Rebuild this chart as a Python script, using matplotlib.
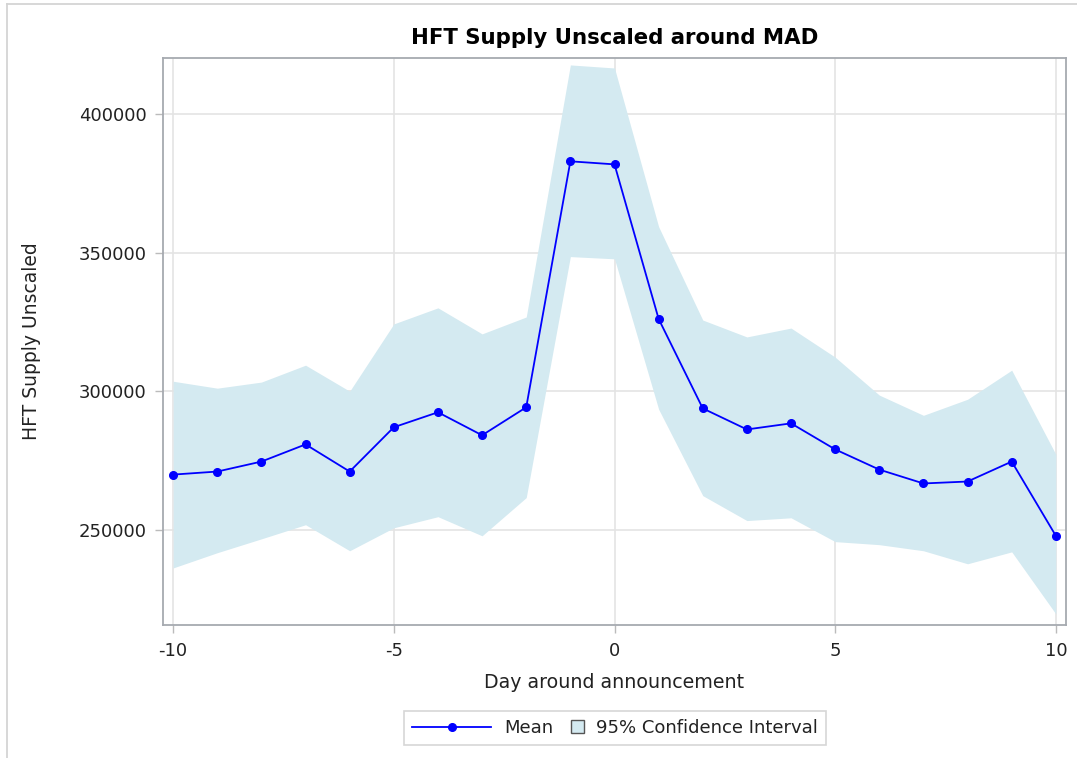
import matplotlib
matplotlib.use("Agg")
import matplotlib.pyplot as plt
from matplotlib.lines import Line2D
from matplotlib.patches import Patch
from matplotlib.legend_handler import HandlerPatch

# values
days = [-10, -9, -8, -7, -6, -5, -4, -3, -2, -1, 0, 1, 2, 3, 4, 5, 6, 7, 8, 9, 10]
mean_vals = [269900, 271000, 274600, 280800, 271000, 287000, 292400, 284100, 294200, 383000,
             381900, 326100, 293800, 286200, 288400, 279000, 271700, 266700, 267400, 274600, 247800]
ci_upper = [303600, 301100, 303300, 309400, 300000, 324300, 330100, 320700, 326800, 417800,
            416700, 359400, 325700, 319600, 322800, 312300, 298600, 291300, 297100, 307600, 277200]
ci_lower = [236200, 241700, 246700, 251800, 242400, 250700, 254700, 247800, 261600, 348600,
            347800, 293500, 262300, 253300, 254300, 245700, 244600, 242400, 237700, 242000, 219600]
x_ticks = [-10, -5, 0, 5, 10]
y_ticks = [250000, 300000, 350000, 400000]

LINE = "#0000ff"
FILL = "#d4eaf1"
GRID = "#e4e4e4"
FRAME = "#a6aab0"
TXT = "#222222"


class SmallSquare(HandlerPatch):
    # legend square narrower than the line handle
    def legend_artist(self, legend, orig_handle, fontsize, handlebox):
        handlebox.width = handlebox.height
        return super().legend_artist(legend, orig_handle, fontsize, handlebox)


def main():
    plt.rcParams["font.family"] = ["DejaVu Sans"]
    plt.rcParams["axes.unicode_minus"] = False
    W, H = 1077, 758
    fig = plt.figure(figsize=(W / 100, H / 100), dpi=100)
    ax = fig.add_axes([163 / W, 1 - 625 / H, (1066 - 163) / W, (625 - 58) / H])

    ax.fill_between(days, ci_lower, ci_upper, color=FILL, linewidth=0, zorder=1)
    ax.plot(days, mean_vals, color=LINE, linewidth=1.3, marker="o", markersize=5.5, zorder=3)

    ax.set_xlim(-10.23, 10.23)
    ax.set_ylim(215600, 420300)
    ax.set_xticks(x_ticks)
    ax.set_yticks(y_ticks)
    ax.grid(True, color=GRID, linewidth=1.2, zorder=0)
    ax.set_axisbelow(True)
    for s in ax.spines.values():
        s.set_color(FRAME)
        s.set_linewidth(1.3)
    ax.tick_params(length=6, width=1, color="#bbbbbb", labelsize=13, labelcolor=TXT, pad=6)

    ax.set_title("HFT Supply Unscaled around MAD", fontsize=15.3, fontweight="bold", pad=10)
    ax.set_xlabel("Day around announcement", fontsize=13.7, color=TXT)
    ax.set_ylabel("HFT Supply Unscaled", fontsize=13.5, color=TXT)
    ax.xaxis.set_label_coords(0.5, -0.085)
    ax.yaxis.set_label_coords(-0.135, 0.5)

    mean_h = Line2D([], [], color=LINE, linewidth=1.3, marker="o", markersize=5.5)
    ci_h = Patch(facecolor=FILL, edgecolor="#555555", linewidth=1)
    leg = fig.legend([mean_h, ci_h], ["Mean", "95% Confidence Interval"],
                     loc="center", bbox_to_anchor=(615 / W, 1 - 728 / H), ncol=2,
                     fontsize=13, frameon=True, fancybox=False, edgecolor="#cccccc",
                     handlelength=4.4, handletextpad=0.7, columnspacing=1.0,
                     borderpad=0.45, handler_map={Patch: SmallSquare()})
    leg.get_frame().set_linewidth(1.2)
    for t in leg.get_texts():
        t.set_color(TXT)

    # outer graph border
    fig.add_artist(Line2D([7 / W, 1], [1 - 4 / H, 1 - 4 / H], color="#d4d4d4", linewidth=1.3))
    fig.add_artist(Line2D([7 / W, 7 / W], [0, 1 - 4 / H], color="#d4d4d4", linewidth=1.3))

    fig.savefig("out.png", dpi=100)


if __name__ == "__main__":
    main()
